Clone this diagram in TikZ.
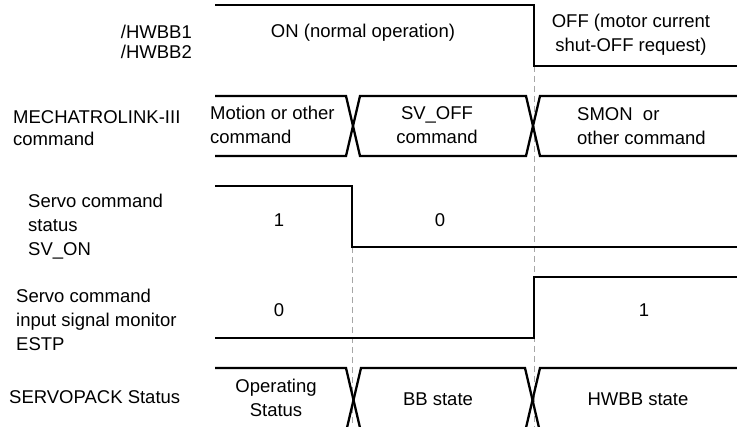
\documentclass[tikz,border=0pt]{standalone}
\usepackage{fontspec}
\setmainfont{Liberation Sans}
\begin{document}
\begin{tikzpicture}[x=1pt, y=-1pt,
  wave/.style={line width=2.3pt, line join=miter},
  guide/.style={gray!70, line width=0.9pt, dash pattern=on 6pt off 4pt},
  txt/.style={font=\fontsize{18.5}{23.5}\selectfont, inner sep=0pt},
  sig/.style={txt, align=left, anchor=west},
  val/.style={txt, align=center}
]
  \useasboundingbox (0,0) rectangle (737,427);
  \clip (0,0) rectangle (737,427);

  % signal names
  \node[txt, align=right, anchor=east,
        font=\fontsize{18.5}{20}\selectfont] (hwbb) at (192,42) {/HWBB1\\/HWBB2};
  \node[sig, font=\fontsize{18.5}{22}\selectfont] (mlink) at (13,128) {MECHATROLINK-III\\command};
  \node[sig, font=\fontsize{18.5}{24}\selectfont] (svon) at (28,227) {Servo command\\status\\SV\_ON};
  \node[sig, font=\fontsize{18.5}{24}\selectfont] (estp) at (16,320) {Servo command\\input signal monitor\\ESTP};
  \node[sig] (spstat) at (9,397) {SERVOPACK Status};

  % state texts
  \node[val] (hwbbon) at (363,33) {ON (normal operation)};
  \node[val, font=\fontsize{18.5}{24}\selectfont] (hwbboff) at (631,35) {OFF (motor current\\shut-OFF request)};
  \node[sig] (cmdmotion) at (210,125) {Motion or other\\command};
  \node[val] (cmdsvoff) at (437,125) {SV\_OFF\\command};
  \node[sig] (cmdsmon) at (577,126) {SMON\ \ or\\other command};
  \node[val] (svonone) at (279,220) {1};
  \node[val] (svonzero) at (440,220) {0};
  \node[val] (estpzero) at (279,310) {0};
  \node[val] (estpone) at (644,310) {1};
  \node[val] (stop) at (276,398) {Operating\\Status};
  \node[val] (stbb) at (438,399) {BB state};
  \node[val] (sthwbb) at (638,399) {HWBB state};

  % timing guides
  \draw[guide] (352,247) -- (352,427);
  \draw[guide] (534,66) -- (534,427);

  % waveforms
  \draw[wave] (215,5) -- (534,5) -- (534,66) -- (737,66);
  \draw[wave] (215,96) -- (346,96) -- (360,156) -- (526,156) -- (540,96) -- (737,96);
  \draw[wave] (215,156) -- (346,156) -- (360,96) -- (526,96) -- (540,156) -- (737,156);
  \draw[wave] (215,186) -- (352,186) -- (352,247) -- (737,247);
  \draw[wave] (215,338) -- (534,338) -- (534,277) -- (737,277);
  \draw[wave] (215,368) -- (346,368) -- (361,432) -- (525,432) -- (540,368) -- (737,368);
  \draw[wave] (215,432) -- (346,432) -- (361,368) -- (525,368) -- (540,432) -- (737,432);
\end{tikzpicture}
\end{document}
